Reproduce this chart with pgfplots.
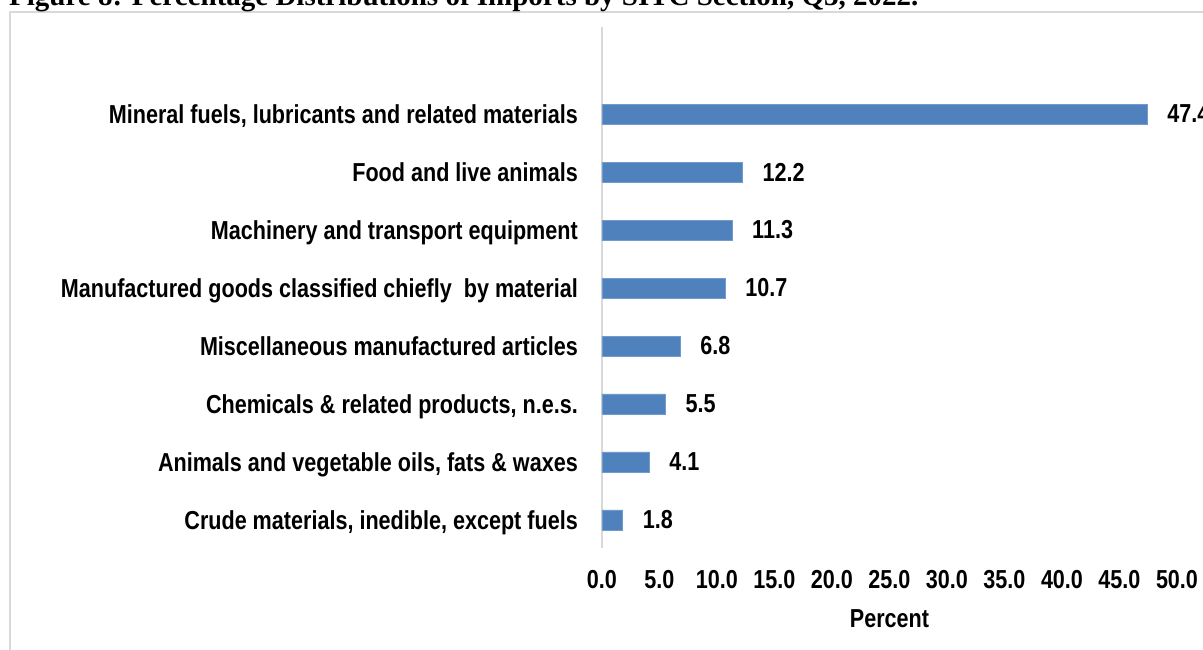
\documentclass[border=0pt]{standalone}
\usepackage{fontspec}
\setmainfont{Liberation Sans}[FakeStretch=0.83]
\newfontfamily\titlefont{Liberation Serif}
\usepackage{pgfplots}
\pgfplotsset{compat=1.18}
\definecolor{barblue}{RGB}{79,129,189}
\definecolor{framegray}{RGB}{217,217,217}
\begin{document}
\begin{tikzpicture}[x=1pt,y=1pt]
\draw[framegray, line width=2pt] (10,-680) -- (10,-12) -- (1240,-12);
\node[anchor=base west, inner sep=0, font=\titlefont\bfseries\fontsize{29}{34}\selectfont] at (9,-5) {Figure 8: Percentage Distributions of Imports by SITC Section, Q3, 2022.};
\begin{axis}[
  at={(602pt,-548pt)}, anchor=south west,
  scale only axis, width=575pt, height=521pt,
  xbar, xmin=0, xmax=50, ymin=-0.483, ymax=8.5,
  clip=false,
  axis lines*=left,
  x axis line style={draw=none},
  y axis line style={framegray, line width=2pt},
  xtick={0,5,...,50}, ytick={0,...,7},
  yticklabels={{Crude materials, inedible, except fuels},{Animals and vegetable oils, fats \& waxes},{Chemicals \& related products, n.e.s.},{Miscellaneous manufactured articles},{Manufactured goods classified chiefly~ by material},{Machinery and transport equipment},{Food and live animals},{Mineral fuels, lubricants and related materials}},
  major tick length=0pt,
  tick label style={font=\bfseries\fontsize{26}{30}\selectfont, inner sep=0pt},
  yticklabel style={anchor=base east, xshift=-24pt, yshift=-9.3pt},
  xticklabel style={anchor=north, yshift=-22pt, /pgf/number format/.cd, fixed, fixed zerofill, precision=1, assume math mode=true},
  xlabel={Percent},
  xlabel style={font=\bfseries\fontsize{26}{30}\selectfont, at={(axis description cs:0.5,0)}, anchor=north, yshift=-61pt, inner sep=0pt},
  bar width=20pt,
  nodes near coords,
  nodes near coords style={anchor=west, xshift=20pt, inner sep=0pt, font=\bfseries\fontsize{26}{30}\selectfont, /pgf/number format/.cd, fixed, fixed zerofill, precision=1, assume math mode=true},
]
\addplot[fill=barblue, draw=barblue!80!white, line width=0.6pt] coordinates {(1.8,0) (4.1,1) (5.5,2) (6.8,3) (10.7,4) (11.3,5) (12.2,6) (47.4,7)};
\end{axis}
\pgfresetboundingbox
\path[use as bounding box] (0,0) rectangle (1203,-649);
\end{tikzpicture}
\end{document}
